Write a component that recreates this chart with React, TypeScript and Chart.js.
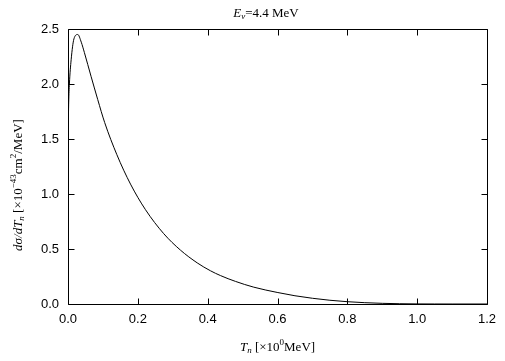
import React, { useEffect, useRef } from "react";
import { Chart, registerables } from "chart.js";

Chart.register(...registerables);

const T_VALUES = [
  0, 0.001, 0.002, 0.004, 0.009, 0.017, 0.028, 0.038, 0.047, 0.066, 0.085,
  0.105, 0.14, 0.179, 0.222, 0.274, 0.322, 0.37, 0.408, 0.437, 0.48, 0.532,
  0.601, 0.65, 0.7, 0.75, 0.8, 0.85, 0.9, 0.95, 1.0, 1.05, 1.1, 1.2,
];
const DSIGMA = [
  1.18, 1.63, 1.83, 2.0, 2.22, 2.41, 2.45, 2.38, 2.285, 2.07, 1.86,
  1.65, 1.357, 1.09, 0.857, 0.64, 0.49, 0.374, 0.302, 0.258, 0.205, 0.153,
  0.104, 0.075, 0.052, 0.034, 0.021, 0.012, 0.006, 0.0025, 0.0008, 0.0002, 0, 0,
];
const X_TICKS = [0, 0.2, 0.4, 0.6, 0.8, 1.0, 1.2];
const Y_TICKS = [0, 0.5, 1.0, 1.5, 2.0, 2.5];

const SANS = "'Liberation Sans', Arial, sans-serif";
const SERIF = "'Liberation Serif', 'Times New Roman', serif";

type Run = { t: string; italic?: boolean; dy?: number; small?: boolean };

function drawRuns(ctx: CanvasRenderingContext2D, runs: Run[], size: number, cx: number, cy: number, rotate: boolean) {
  const fontFor = (r: Run) =>
    `${r.italic ? "italic " : ""}${r.small ? Math.round(size * 0.72) : size}px ${SERIF}`;
  let total = 0;
  const widths = runs.map((r) => {
    ctx.font = fontFor(r);
    const w = ctx.measureText(r.t).width;
    total += w;
    return w;
  });
  ctx.save();
  ctx.translate(cx, cy);
  if (rotate) ctx.rotate(-Math.PI / 2);
  ctx.fillStyle = "#000";
  ctx.textBaseline = "middle";
  ctx.textAlign = "left";
  let x = -total / 2;
  runs.forEach((r, i) => {
    ctx.font = fontFor(r);
    ctx.fillText(r.t, x, r.dy || 0);
    x += widths[i];
  });
  ctx.restore();
}

const framePlugin = {
  id: "frame",
  afterDraw(chart: any) {
    const { ctx, chartArea } = chart;
    const xs = chart.scales.x;
    const ys = chart.scales.y;
    const l = Math.round(chartArea.left) + 0.5;
    const r = Math.round(chartArea.right) + 0.5;
    const t = Math.round(chartArea.top) + 0.5;
    const b = Math.round(chartArea.bottom) + 0.5;
    ctx.save();
    ctx.strokeStyle = "#000";
    ctx.lineWidth = 1;
    ctx.beginPath();
    ctx.rect(l, t, r - l, b - t);
    const TL = 6;
    X_TICKS.forEach((v) => {
      const px = Math.round(xs.getPixelForValue(v)) + 0.5;
      ctx.moveTo(px, b);
      ctx.lineTo(px, b - TL);
      ctx.moveTo(px, t);
      ctx.lineTo(px, t + TL);
    });
    Y_TICKS.forEach((v) => {
      const py = Math.round(ys.getPixelForValue(v)) + 0.5;
      ctx.moveTo(l, py);
      ctx.lineTo(l + TL, py);
      ctx.moveTo(r, py);
      ctx.lineTo(r - TL, py);
    });
    ctx.stroke();
    ctx.restore();

    const cxPlot = (chartArea.left + chartArea.right) / 2;
    drawRuns(
      ctx,
      [
        { t: "E", italic: true },
        { t: "ν", italic: true, small: true, dy: 3 },
        { t: "=4.4 MeV" },
      ],
      13,
      266,
      14,
      false
    );
    drawRuns(
      ctx,
      [
        { t: "T", italic: true },
        { t: "n", italic: true, small: true, dy: 3 },
        { t: " [×10" },
        { t: "0", small: true, dy: -5 },
        { t: "MeV]" },
      ],
      13,
      cxPlot,
      348,
      false
    );
    drawRuns(
      ctx,
      [
        { t: "dσ/dT", italic: true },
        { t: "n", italic: true, small: true, dy: 3 },
        { t: " [×10" },
        { t: "−43", small: true, dy: -5 },
        { t: "cm" },
        { t: "2", small: true, dy: -5 },
        { t: "/MeV]" },
      ],
      13,
      19,
      185,
      true
    );
  },
};

export default function App() {
  const ref = useRef<HTMLCanvasElement | null>(null);
  useEffect(() => {
    document.body.style.margin = "0";
    const canvas = ref.current!;
    const chart = new Chart(canvas, {
      type: "line",
      data: {
        datasets: [
          {
            data: T_VALUES.map((t, i) => ({ x: t, y: DSIGMA[i] })),
            borderColor: "#000",
            borderWidth: 1,
            pointRadius: 0,
            fill: false,
            cubicInterpolationMode: "monotone",
          },
        ],
      },
      options: {
        responsive: false,
        animation: false,
        events: [],
        layout: { padding: { top: 29, right: 18, left: 0, bottom: 0 } },
        plugins: { legend: { display: false }, tooltip: { enabled: false }, title: { display: false } },
        scales: {
          x: {
            type: "linear",
            min: 0,
            max: 1.2,
            afterBuildTicks: (s: any) => {
              s.ticks = X_TICKS.map((v) => ({ value: v }));
            },
            afterFit: (s: any) => {
              s.height = 57;
            },
            ticks: {
              callback: (v: any) => Number(v).toFixed(1),
              color: "#000",
              font: { family: SANS, size: 13 },
              maxRotation: 0,
              autoSkip: false,
              padding: 8,
            },
            grid: { display: false, drawTicks: false },
            border: { display: false },
          },
          y: {
            type: "linear",
            min: 0,
            max: 2.5,
            afterBuildTicks: (s: any) => {
              s.ticks = Y_TICKS.map((v) => ({ value: v }));
            },
            afterFit: (s: any) => {
              s.width = 68;
            },
            ticks: {
              callback: (v: any) => Number(v).toFixed(1),
              color: "#000",
              font: { family: SANS, size: 13 },
              autoSkip: false,
              padding: 9,
            },
            grid: { display: false, drawTicks: false },
            border: { display: false },
          },
        },
      },
      plugins: [framePlugin],
    } as any);
    return () => chart.destroy();
  }, []);
  return (
    <div style={{ position: "absolute", left: 0, top: 0, width: 505, height: 361, background: "#fff" }}>
      <canvas ref={ref} width={505} height={361} />
    </div>
  );
}
